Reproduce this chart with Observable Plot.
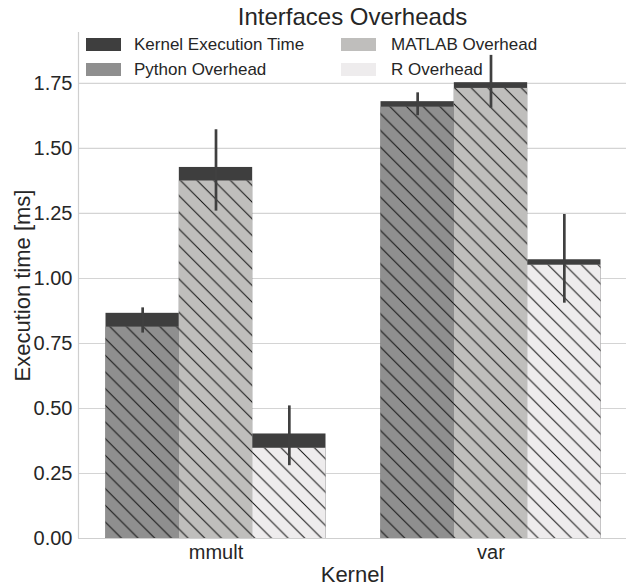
<!DOCTYPE html>
<html><head><meta charset="utf-8">
<script src="https://cdn.jsdelivr.net/npm/d3@7"></script>
<script src="https://cdn.jsdelivr.net/npm/@observablehq/plot@0.6"></script>
<style>body{margin:0;background:#fff}</style>
</head><body><div id="chart"></div>
<script>
const title = "Interfaces Overheads";
const xLabel = "Kernel";
const yLabel = "Execution time [ms]";
const kernels = ["mmult", "var"];
const languages = ["Python", "MATLAB", "R"];
// top of the hatched overhead part
const overheadMmult = [0.813, 1.375, 0.347];
const overheadVar = [1.659, 1.731, 1.051];
// top of the dark kernel-execution part (total)
const totalMmult = [0.866, 1.427, 0.402];
const totalVar = [1.680, 1.753, 1.072];
// error bars
const errLowMmult = [0.790, 1.259, 0.280];
const errLowVar = [1.626, 1.655, 0.905];
const errHighMmult = [0.887, 1.572, 0.510];
const errHighVar = [1.714, 1.858, 1.246];
const yTicks = [0, 0.25, 0.5, 0.75, 1.0, 1.25, 1.5, 1.75];
const legendLabels = ["Kernel Execution Time", "Python Overhead", "MATLAB Overhead", "R Overhead"];
const kernelColor = "#3e3e3e";
const langColors = ["#8f8f8f", "#bfbebc", "#eeeced"];
const legendColors = [kernelColor, ...langColors];

const overhead = [overheadMmult, overheadVar];
const total = [totalMmult, totalVar];
const errLow = [errLowMmult, errLowVar];
const errHigh = [errHighMmult, errHighVar];

const groupWidth = 0.8;
const bw = groupWidth / languages.length;
const rows = [];
kernels.forEach((k, i) => {
  languages.forEach((l, j) => {
    const x1 = i - groupWidth / 2 + j * bw;
    rows.push({kernel: k, lang: l, x1, x2: x1 + bw, xc: x1 + bw / 2,
      overhead: overhead[i][j], total: total[i][j], lo: errLow[i][j], hi: errHigh[i][j]});
  });
});

const W = 626, H = 586;
const plot = Plot.plot({
  width: W, height: H,
  marginLeft: 78, marginRight: 0, marginTop: 32, marginBottom: 48,
  style: {fontFamily: "'Liberation Sans', Arial, sans-serif", color: "#262626", background: "white"},
  x: {type: "linear", domain: [-0.5, 1.5], range: [78, 628]},
  y: {domain: [0, 1.946]},
  color: {domain: languages, range: langColors},
  marks: [
    Plot.ruleY(yTicks, {stroke: "#d4d4d4", strokeWidth: 1.2}),
    Plot.rectY(rows, {x1: "x1", x2: "x2", y1: 0, y2: "total", fill: kernelColor}),
    Plot.rectY(rows, {x1: "x1", x2: "x2", y1: 0, y2: "overhead", fill: "lang"}),
    Plot.rectY(rows, {x1: "x1", x2: "x2", y1: 0, y2: "overhead", fill: "url(#hatch)"}),
    Plot.ruleX(rows, {x: "xc", y1: "lo", y2: "hi", stroke: "#404040", strokeWidth: 2.7}),
    Plot.ruleX([-0.5], {stroke: "#cfcfcf", strokeWidth: 1.2}),
    Plot.ruleY([0], {stroke: "#cfcfcf", strokeWidth: 1.2}),
    Plot.axisY(yTicks, {tickSize: 0, tickPadding: 6, tickFormat: d3.format(".2f"), fontSize: 20, label: null}),
    Plot.axisX([0, 1], {tickSize: 0, tickPadding: 6, tickFormat: i => kernels[i], fontSize: 20, label: null}),
    Plot.text([title], {frameAnchor: "top", lineAnchor: "top", dy: -25, fontSize: 24, fill: "#262626"}),
    Plot.text([xLabel], {frameAnchor: "bottom", lineAnchor: "bottom", dy: 43, fontSize: 22, fill: "#262626"}),
    Plot.text([yLabel], {frameAnchor: "left", textAnchor: "middle", lineAnchor: "middle", rotate: -90, dx: -56, fontSize: 22, fill: "#262626"})
  ]
});

const svg = d3.select(plot);
const w = 16.67;
const defs = svg.insert("defs", ":first-child");
const pat = defs.append("pattern").attr("id", "hatch").attr("patternUnits", "userSpaceOnUse")
  .attr("width", w).attr("height", w);
pat.append("path")
  .attr("d", `M-2,-2L${w + 2},${w + 2}M-2,${w - 2}L2,${w + 2}M${w - 2},-2L${w + 2},2`)
  .attr("stroke", "#111").attr("stroke-width", 1).attr("fill", "none");

// legend (two columns, inside the axes)
const legendCols = [{sx: 86, tx: 134}, {sx: 341, tx: 391}];
const legendRows = [44.5, 69.5];
const lg = svg.append("g").attr("font-size", 17).attr("fill", "#262626").attr("text-anchor", "start");
legendLabels.forEach((label, idx) => {
  const c = legendCols[Math.floor(idx / 2)], r = legendRows[idx % 2];
  lg.append("rect").attr("x", c.sx).attr("y", r - 6.5).attr("width", 35).attr("height", 13).attr("fill", legendColors[idx]);
  lg.append("text").attr("x", c.tx).attr("y", r).attr("dy", "0.35em").attr("text-anchor", "start").text(label);
});

document.getElementById("chart").appendChild(plot);
</script>
</body></html>
